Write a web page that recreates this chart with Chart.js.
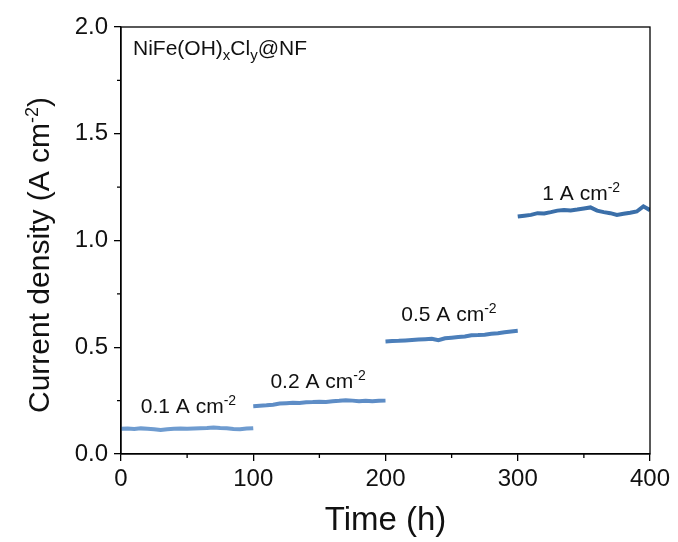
<!DOCTYPE html>
<html>
<head>
<meta charset="utf-8">
<script src="https://cdn.jsdelivr.net/npm/chart.js@4"></script>
<style>
  html, body { margin: 0; padding: 0; background: #fff; }
  #wrap { width: 678px; height: 542px; }
</style>
</head>
<body>
<div id="wrap"><canvas id="stabilityChart" width="678" height="542"></canvas></div>
<script>
// time axis (h), one array per step
const time1 = [0,5,10,15,20,25,30,35,40,45,50,55,60,65,70,75,80,85,90,95,100];
const time2 = [100,105,110,115,120,125,130,135,140,145,150,155,160,165,170,175,180,185,190,195,200];
const time3 = [200,205,210,215,220,225,230,235,240,245,250,255,260,265,270,275,280,285,290,295,300];
const time4 = [300,305,310,315,320,325,330,335,340,345,350,355,360,365,370,375,380,385,390,395,400];

// current density (A cm-2)
const current1 = [0.118,0.119,0.117,0.120,0.118,0.116,0.113,0.116,0.118,0.119,0.118,0.120,0.121,0.122,0.124,0.122,0.121,0.117,0.116,0.119,0.121];
const current2 = [0.224,0.226,0.228,0.231,0.236,0.238,0.240,0.239,0.242,0.243,0.245,0.244,0.247,0.249,0.252,0.250,0.247,0.249,0.247,0.249,0.250];
const current3 = [0.527,0.529,0.530,0.532,0.534,0.536,0.538,0.540,0.533,0.542,0.545,0.548,0.550,0.556,0.557,0.559,0.563,0.566,0.570,0.574,0.577];
const current4 = [1.112,1.116,1.120,1.128,1.127,1.133,1.140,1.143,1.141,1.145,1.150,1.155,1.140,1.133,1.128,1.120,1.125,1.130,1.136,1.160,1.142];

const xTicks = [0, 100, 200, 300, 400];
const yTicks = [0.0, 0.5, 1.0, 1.5, 2.0];

// step labels: text, anchor time, anchor current
const stepLabels = ['0.1 A cm', '0.2 A cm', '0.5 A cm', '1 A cm'];
const stepLabelX = [51, 149, 248, 348];
const stepLabelY = [0.19, 0.31, 0.625, 1.19];

const colors = ['#6f9cd0', '#5e8dc6', '#4c7fba', '#3b6fa9'];

function toPoints(xs, ys) {
  return xs.map(function (x, i) { return { x: x, y: ys[i] }; });
}

const FONT = '"Liberation Sans", Arial, sans-serif';

// draw a string made of runs: [text, shift] where shift is 'sup', 'sub' or ''
function drawRuns(ctx, runs, x, y, size, align, ratio) {
  const small = Math.round(size * (ratio || 0.68));
  let total = 0;
  runs.forEach(function (r) {
    ctx.font = (r[1] ? small : size) + 'px ' + FONT;
    total += ctx.measureText(r[0]).width;
  });
  let cx = align === 'center' ? x - total / 2 : x;
  runs.forEach(function (r) {
    ctx.font = (r[1] ? small : size) + 'px ' + FONT;
    let dy = 0;
    if (r[1] === 'sup') dy = -size * 0.38;
    if (r[1] === 'sub') dy = size * 0.22;
    ctx.fillText(r[0], cx, y + dy);
    cx += ctx.measureText(r[0]).width;
  });
}

const decorPlugin = {
  id: 'decor',
  afterDraw: function (chart) {
    const ctx = chart.ctx;
    const a = chart.chartArea;
    const xs = chart.scales.x;
    const ys = chart.scales.y;
    ctx.save();
    ctx.strokeStyle = '#000';
    ctx.lineWidth = 1.3;
    ctx.strokeRect(a.left, a.top, a.right - a.left, a.bottom - a.top);

    // minor ticks
    ctx.beginPath();
    [50, 150, 250, 350].forEach(function (v) {
      const px = xs.getPixelForValue(v);
      ctx.moveTo(px, a.bottom);
      ctx.lineTo(px, a.bottom + 4);
    });
    [0.25, 0.75, 1.25, 1.75].forEach(function (v) {
      const py = ys.getPixelForValue(v);
      ctx.moveTo(a.left, py);
      ctx.lineTo(a.left - 4, py);
    });
    ctx.stroke();

    ctx.fillStyle = '#111';
    ctx.textBaseline = 'alphabetic';

    // sample name
    drawRuns(ctx, [['NiFe(OH)', ''], ['x', 'sub'], ['Cl', ''], ['y', 'sub'], ['@NF', '']],
      a.left + 12, a.top + 28, 21, 'left', 0.7);

    // step labels
    stepLabels.forEach(function (t, i) {
      const px = xs.getPixelForValue(stepLabelX[i]);
      const py = ys.getPixelForValue(stepLabelY[i]);
      drawRuns(ctx, [[t, ''], ['-2', 'sup']], px, py, 21, 'center', 0.66);
    });

    // axis titles
    drawRuns(ctx, [['Time (h)', '']], (a.left + a.right) / 2, 530, 33, 'center');
    ctx.save();
    ctx.translate(49, 255);
    ctx.rotate(-Math.PI / 2);
    drawRuns(ctx, [['Current density (A cm', ''], ['-2', 'sup'], [')', '']], 0, 0, 30, 'center', 0.6);
    ctx.restore();
    ctx.restore();
  }
};

const datasets = [
  { data: toPoints(time1, current1), borderColor: colors[0] },
  { data: toPoints(time2, current2), borderColor: colors[1] },
  { data: toPoints(time3, current3), borderColor: colors[2] },
  { data: toPoints(time4, current4), borderColor: colors[3] }
].map(function (d) {
  return Object.assign(d, { borderWidth: 4, pointRadius: 0, fill: false, tension: 0 });
});

new Chart(document.getElementById('stabilityChart').getContext('2d'), {
  type: 'line',
  data: { datasets: datasets },
  plugins: [decorPlugin],
  options: {
    responsive: false,
    animation: false,
    layout: { padding: { top: 27, right: 28, left: 0, bottom: 0 } },
    plugins: { legend: { display: false }, tooltip: { enabled: false } },
    scales: {
      x: {
        type: 'linear',
        min: 0,
        max: 400,
        afterFit: function (s) { s.height = 88; },
        afterBuildTicks: function (s) { s.ticks = xTicks.map(function (v) { return { value: v }; }); },
        grid: { drawOnChartArea: false, tickLength: 7, color: '#000', lineWidth: 1.3 },
        border: { display: true, color: '#000', width: 1.3 },
        ticks: { color: '#111', padding: 4, maxRotation: 0, font: { family: FONT, size: 24 } }
      },
      y: {
        min: 0,
        max: 2,
        afterFit: function (s) { s.width = 121; },
        afterBuildTicks: function (s) { s.ticks = yTicks.map(function (v) { return { value: v }; }); },
        grid: { drawOnChartArea: false, tickLength: 7, color: '#000', lineWidth: 1.3 },
        border: { display: true, color: '#000', width: 1.3 },
        ticks: {
          color: '#111', padding: 6, font: { family: FONT, size: 24 },
          callback: function (v) { return Number(v).toFixed(1); }
        }
      }
    }
  }
});
</script>
</body>
</html>
